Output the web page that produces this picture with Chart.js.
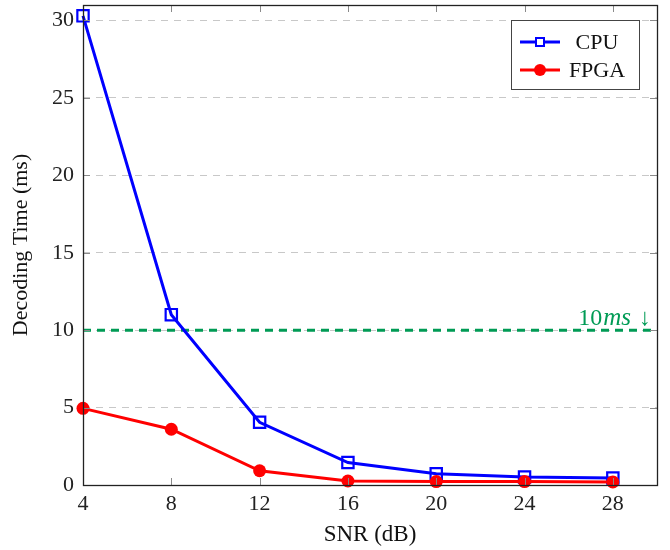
<!DOCTYPE html>
<html>
<head>
<meta charset="utf-8">
<title>Decoding Time vs SNR</title>
<script src="https://cdn.jsdelivr.net/npm/chart.js@4.4.1/dist/chart.umd.min.js"></script>
<style>
  html, body { margin: 0; padding: 0; background: #fff; }
  canvas { display: block; }
</style>
</head>
<body>
<canvas id="line-chart" width="670" height="550"></canvas>
<script>
(function () {
    "use strict";

    // SNR points (dB) and measured decoding times (ms)
    var snr = [4, 8, 12, 16, 20, 24, 28];
    var cpuTime = [30.3, 11.0, 4.05, 1.45, 0.72, 0.52, 0.45];
    var fpgaTime = [4.95, 3.6, 0.92, 0.26, 0.22, 0.22, 0.2];
    var xTicks = [4, 8, 12, 16, 20, 24, 28];
    var yTicks = [0, 5, 10, 15, 20, 25, 30];
    var limitMs = 10;

    var serif = "'Liberation Serif', 'Times New Roman', serif";
    var green = "#009b55";

    function pairs(xs, ys) {
        return xs.map(function (x, i) { return { x: x, y: ys[i] }; });
    }

    // Frame, inner tick marks, legend box and the 10 ms note
    var extras = {
        id: "extras",
        afterDraw: function (chart) {
            var ctx = chart.ctx;
            var a = chart.chartArea;
            var xs = chart.scales.x, ys = chart.scales.y;
            ctx.save();

            // tick marks pointing inward on all four sides
            ctx.strokeStyle = "#8a8a8a";
            ctx.lineWidth = 1;
            ctx.beginPath();
            xTicks.forEach(function (t) {
                var px = Math.round(xs.getPixelForValue(t)) + 0.5;
                ctx.moveTo(px, a.bottom); ctx.lineTo(px, a.bottom - 7);
                ctx.moveTo(px, a.top); ctx.lineTo(px, a.top + 7);
            });
            yTicks.forEach(function (t) {
                var py = Math.round(ys.getPixelForValue(t)) + 0.5;
                ctx.moveTo(a.left, py); ctx.lineTo(a.left + 7, py);
                ctx.moveTo(a.right, py); ctx.lineTo(a.right - 7, py);
            });
            ctx.stroke();

            // axis frame
            ctx.strokeStyle = "#222";
            ctx.lineWidth = 1.3;
            ctx.strokeRect(Math.round(a.left) + 0.5, Math.round(a.top) + 0.5,
                Math.round(a.right - a.left), Math.round(a.bottom - a.top));

            // "10ms ↓" note above the limit line
            var ly = ys.getPixelForValue(limitMs) - 5;
            ctx.fillStyle = green;
            ctx.textBaseline = "alphabetic";
            ctx.textAlign = "left";
            var upright = "24px " + serif, italic = "italic 25px " + serif;
            ctx.font = upright;
            var w10 = ctx.measureText("10").width;
            var wArrow = ctx.measureText("\u2193").width;
            ctx.font = italic;
            var wMs = ctx.measureText("ms").width + 5;
            var x0 = a.right - 6 - (w10 + wMs + 4 + wArrow);
            ctx.font = upright;
            ctx.fillText("10", x0, ly);
            ctx.font = italic;
            ctx.fillText("ms", x0 + w10 + 1, ly);
            ctx.font = upright;
            ctx.fillText("\u2193", x0 + w10 + wMs + 4, ly);

            // legend box
            var bx = a.right - 146, by = a.top + 15, bw = 128, bh = 69;
            ctx.fillStyle = "#fff";
            ctx.fillRect(bx, by, bw, bh);
            ctx.strokeStyle = "#444";
            ctx.lineWidth = 1;
            ctx.strokeRect(bx + 0.5, by + 0.5, bw, bh);

            chart.data.datasets.forEach(function (ds) {
                if (!ds.inLegend) return;
                var ey = by + 22 + (ds.legendRow * 28);
                ctx.strokeStyle = ds.borderColor;
                ctx.lineWidth = 3;
                ctx.beginPath();
                ctx.moveTo(bx + 9, ey); ctx.lineTo(bx + 49, ey);
                ctx.stroke();
                if (ds.pointStyle === "rect") {
                    ctx.fillStyle = "#fff";
                    ctx.fillRect(bx + 25, ey - 4, 8, 8);
                    ctx.lineWidth = 2;
                    ctx.strokeRect(bx + 25, ey - 4, 8, 8);
                } else {
                    ctx.fillStyle = ds.borderColor;
                    ctx.beginPath();
                    ctx.arc(bx + 29, ey, 6, 0, Math.PI * 2);
                    ctx.fill();
                }
                ctx.fillStyle = "#111";
                ctx.font = "22px " + serif;
                ctx.textAlign = "center";
                ctx.textBaseline = "middle";
                ctx.fillText(ds.label, bx + 86, ey + 1);
            });
            ctx.restore();
        }
    };

    var ctx = document.getElementById("line-chart").getContext("2d");
    var chart = new Chart(ctx, {
        type: "line",
        data: {
            datasets: [{
                label: "FPGA",
                data: pairs(snr, fpgaTime),
                borderColor: "#ff0000",
                backgroundColor: "#ff0000",
                borderWidth: 3,
                pointStyle: "circle",
                pointRadius: 6.5,
                pointBorderWidth: 0,
                clip: false,
                order: 0,
                inLegend: true,
                legendRow: 1
            }, {
                label: "CPU",
                data: pairs(snr, cpuTime),
                borderColor: "#0000ff",
                backgroundColor: "rgba(0,0,0,0)",
                borderWidth: 3,
                pointStyle: "rect",
                pointRadius: 8,
                pointBorderWidth: 2.2,
                clip: false,
                order: 1,
                inLegend: true,
                legendRow: 0
            }, {
                label: "limit",
                data: [{ x: 4, y: limitMs }, { x: 30, y: limitMs }],
                borderColor: green,
                borderWidth: 3,
                borderDash: [8, 6],
                pointRadius: 0,
                order: 2
            }]
        },
        options: {
            responsive: false,
            animation: false,
            layout: {
                autoPadding: false,
                padding: { top: 5, right: 13, bottom: 0, left: 0 }
            },
            plugins: {
                legend: { display: false },
                tooltip: { enabled: false }
            },
            scales: {
                x: {
                    type: "linear",
                    min: 4,
                    max: 30,
                    afterBuildTicks: function (s) {
                        s.ticks = xTicks.map(function (v) { return { value: v }; });
                    },
                    afterFit: function (s) {
                        s.height = 65;
                        s.paddingLeft = 0;
                        s.paddingRight = 0;
                    },
                    grid: { display: false, drawTicks: false },
                    border: { display: false },
                    ticks: {
                        padding: 6,
                        autoSkip: false,
                        color: "#222",
                        font: { family: serif, size: 22 },
                        maxRotation: 0
                    },
                    title: {
                        display: true,
                        text: "SNR (dB)",
                        color: "#111",
                        font: { family: serif, size: 23 },
                        padding: { top: 0, bottom: 1 }
                    }
                },
                y: {
                    min: 0,
                    max: 31,
                    afterBuildTicks: function (s) {
                        s.ticks = yTicks.map(function (v) { return { value: v }; });
                    },
                    afterFit: function (s) {
                        s.width = 83;
                        s.paddingTop = 0;
                        s.paddingBottom = 0;
                    },
                    grid: {
                        color: "#c8c8c8",
                        lineWidth: 1,
                        drawTicks: false
                    },
                    border: { display: false, dash: [7, 6] },
                    ticks: {
                        padding: 9,
                        autoSkip: false,
                        color: "#222",
                        font: { family: serif, size: 22 }
                    },
                    title: {
                        display: true,
                        text: "Decoding Time (ms)",
                        color: "#111",
                        font: { family: serif, size: 22 },
                        padding: { top: 8, bottom: 0 }
                    }
                }
            }
        },
        plugins: [extras]
    });
})();
</script>
</body>
</html>
